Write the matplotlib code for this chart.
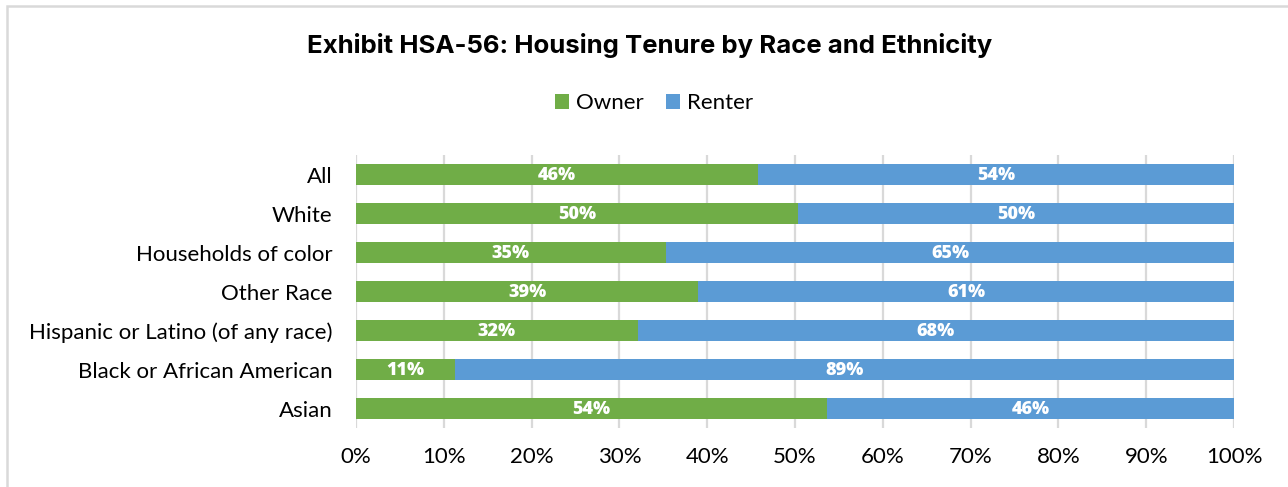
import matplotlib
matplotlib.use("Agg")
import matplotlib.pyplot as plt
from matplotlib.patches import Rectangle

categories = ["All", "White", "Households of color", "Other Race",
              "Hispanic or Latino (of any race)", "Black or African American", "Asian"]
owner = [45.8, 50.3, 35.3, 39.0, 32.1, 11.3, 53.7]
renter = [100 - v for v in owner]
xticks = [0, 10, 20, 30, 40, 50, 60, 70, 80, 90, 100]

GREEN = "#70AD47"
BLUE = "#5B9BD5"
GRID = "#D9D9D9"
LABEL_FONT = ["Lato", "DejaVu Sans"]

fig = plt.figure(figsize=(12.88, 4.87), dpi=100)
ax = fig.add_axes([356 / 1288, 1 - 428 / 487, 878 / 1288, 273 / 487])

# outer chart frame
fig.patches.append(Rectangle((7 / 1288, -0.1), 2.0, 1 - 6 / 487 + 0.1,
                             transform=fig.transFigure, fill=False,
                             edgecolor=GRID, linewidth=1.8))

y = list(range(len(categories)))
h = 0.56
b1 = ax.barh(y, owner, height=h, color=GREEN, label="Owner", zorder=3)
b2 = ax.barh(y, renter, left=owner, height=h, color=BLUE, label="Renter", zorder=3)

for vals, lefts in ((owner, [0] * len(owner)), (renter, owner)):
    for yi, v, l in zip(y, vals, lefts):
        ax.text(l + v / 2, yi + 0.02, f"{round(v)}%", ha="center", va="center",
                color="white", fontsize=13, fontweight="heavy",
                family=["Open Sans", "DejaVu Sans"], zorder=4)

ax.set_xlim(0, 100)
ax.set_ylim(len(categories) - 0.5, -0.5)
ax.set_xticks(xticks)
ax.set_xticklabels([f"{t}%" for t in xticks], family=LABEL_FONT, fontsize=16)
ax.set_yticks(y)
ax.set_yticklabels(categories, family=LABEL_FONT, fontsize=16)
ax.tick_params(axis="both", length=0, colors="#000000")
ax.tick_params(axis="x", pad=14)
ax.tick_params(axis="y", pad=17)
for s in ax.spines.values():
    s.set_visible(False)
ax.grid(axis="x", color=GRID, linewidth=1.6, zorder=0)
ax.set_axisbelow(True)

fig.text(650 / 1288, 1 - 45 / 487, "Exhibit HSA-56: Housing Tenure by Race and Ethnicity",
         ha="center", va="center", fontsize=18.5, fontweight="bold",
         family=["Inter", "DejaVu Sans"])

leg = fig.legend(handles=[b1, b2], labels=["Owner", "Renter"], loc="center",
                 bbox_to_anchor=(654 / 1288, 1 - 103 / 487), ncol=2, frameon=False,
                 prop={"family": LABEL_FONT, "size": 16},
                 handlelength=0.65, handleheight=0.65, handletextpad=0.3,
                 columnspacing=1.0)

fig.savefig("out.png", dpi=100, facecolor="white")
